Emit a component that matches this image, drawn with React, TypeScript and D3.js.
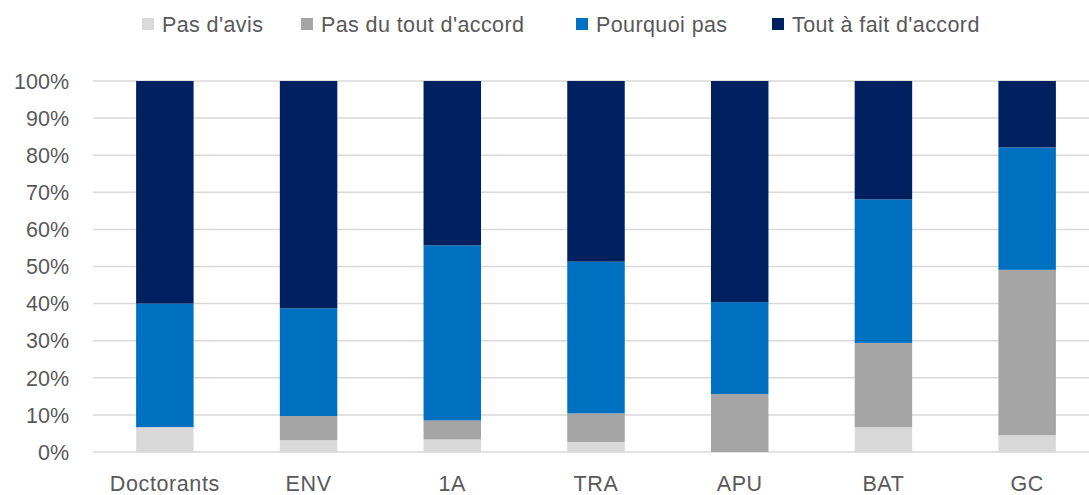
import React from "react";
import * as d3 from "d3";

const categories = ["Doctorants", "ENV", "1A", "TRA", "APU", "BAT", "GC"];
const seriesNames = ["Pas d'avis", "Pas du tout d'accord", "Pourquoi pas", "Tout à fait d'accord"];
const pasDavis = [6.7, 3.2, 3.4, 2.7, 0, 6.7, 4.5];
const pasDuTout = [0, 6.5, 5.1, 7.7, 15.6, 22.7, 44.6];
const pourquoiPas = [33.3, 29.0, 47.2, 40.9, 24.8, 38.7, 33.0];
const toutAFait = [60.0, 61.3, 44.3, 48.7, 59.6, 31.9, 17.9];
const yTicks = [0, 10, 20, 30, 40, 50, 60, 70, 80, 90, 100];
const colors = ["#d9d9d9", "#a5a5a5", "#0070c0", "#002060"];

const W = 1089;
const H = 495;
const FONT = "'Liberation Sans', Arial, sans-serif";
const TEXT = "#595959";

export default function App() {
  const x = d3.scaleBand<string>().domain(categories).range([93, 1099]).paddingInner(0.6).paddingOuter(0.3);
  const y = d3.scaleLinear().domain([0, 100]).range([452, 81]);

  const rows = categories.map((c, i) => ({
    cat: c,
    a: pasDavis[i],
    b: pasDuTout[i],
    c2: pourquoiPas[i],
    d: toutAFait[i],
  }));
  const keys = ["a", "b", "c2", "d"];
  const stacked = d3.stack<any>().keys(keys)(rows);

  const legendX = [142, 301, 576, 772];

  return (
    <svg width={W} height={H} style={{ position: "absolute", left: 0, top: 0, background: "#fff" }} fontFamily={FONT}>
      <rect x={0} y={0} width={W} height={H} fill="#fff" />
      {yTicks.map((t) => (
        <g key={t}>
          <line x1={93} x2={1099} y1={y(t)} y2={y(t)} stroke="#d9d9d9" strokeWidth={1.5} />
          <text x={69} y={y(t)} dy="0.36em" textAnchor="end" fontSize={21.5} fill={TEXT}>
            {t}%
          </text>
        </g>
      ))}
      {stacked.map((s, si) => (
        <g key={si} fill={colors[si]}>
          {s.map((d, i) => {
            const h = y(d[0]) - y(d[1]);
            if (h <= 0) return null;
            return (
              <rect key={i} x={x(categories[i])!} width={x.bandwidth()} y={y(d[1])} height={h} />
            );
          })}
        </g>
      ))}
      {categories.map((c) => (
        <text key={c} x={x(c)! + x.bandwidth() / 2} y={491} textAnchor="middle" fontSize={21.5} letterSpacing={0.6} fill={TEXT}>
          {c}
        </text>
      ))}
      {seriesNames.map((n, i) => (
        <g key={n}>
          <rect x={legendX[i]} y={18} width={12} height={12} fill={colors[i]} />
          <text x={legendX[i] + 20} y={24} dy="0.36em" fontSize={21.5} letterSpacing={0.4} fill={TEXT}>
            {n}
          </text>
        </g>
      ))}
    </svg>
  );
}
